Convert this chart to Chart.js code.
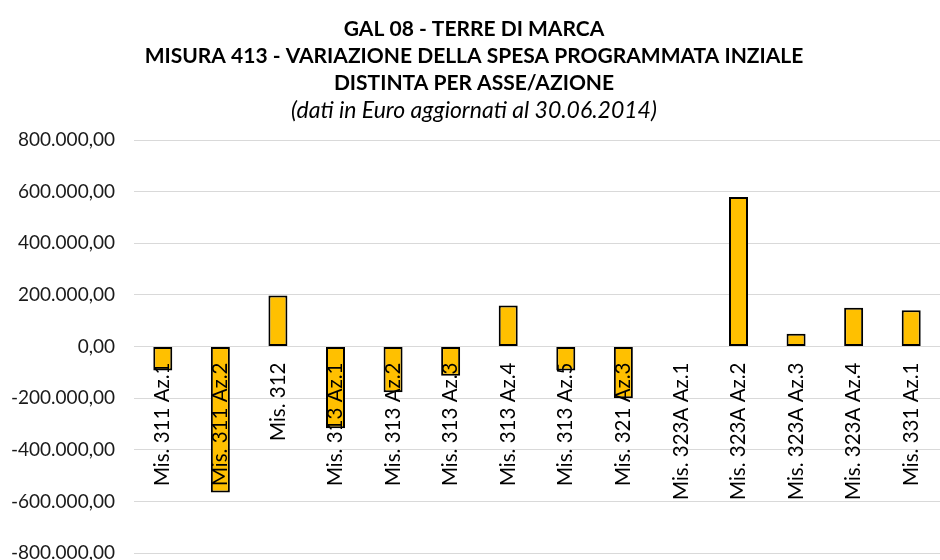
<!DOCTYPE html>
<html>
<head>
<meta charset="utf-8">
<script src="https://cdn.jsdelivr.net/npm/chart.js@4"></script>
<style>
  html, body { margin: 0; padding: 0; background: #fff; }
</style>
</head>
<body>
<canvas id="spesaChart" width="940" height="560"></canvas>
<script>
// Variazione della spesa programmata per asse/azione (Euro)
const categories = [
    'Mis. 311 Az.1', 'Mis. 311 Az.2', 'Mis. 312', 'Mis. 313 Az.1', 'Mis. 313 Az.2',
    'Mis. 313 Az.3', 'Mis. 313 Az.4', 'Mis. 313 Az.5', 'Mis. 321 Az.3', 'Mis. 323A Az.1',
    'Mis. 323A Az.2', 'Mis. 323A Az.3', 'Mis. 323A Az.4', 'Mis. 331 Az.1'
];
const variazione = [
    -93000, -566000, 198000, -317000, -177000,
    -113000, 159000, -93000, -200000, 0,
    579000, 49000, 150000, 140000
];
const titleLines = [
    'GAL 08 - TERRE DI MARCA',
    'MISURA 413 - VARIAZIONE DELLA SPESA PROGRAMMATA INZIALE',
    'DISTINTA PER ASSE/AZIONE'
];
const subtitleText = '(dati in Euro aggiornati al 30.06.2014)';

// 1234567.8 -> "1.234.567,80"
function formatEuro(v) {
    const neg = v < 0;
    const parts = Math.abs(v).toFixed(2).split('.');
    const intPart = parts[0].replace(/\B(?=(\d{3})+(?!\d))/g, '.');
    return (neg ? '-' : '') + intPart + ',' + parts[1];
}

const ctx = document.getElementById('spesaChart').getContext('2d');
const FONT = 'Lato, "Liberation Sans", sans-serif';

new Chart(ctx, {
    type: 'bar',
    data: {
        labels: categories,
        datasets: [{
            data: variazione,
            backgroundColor: '#FFC000',
            borderColor: '#000000',
            borderWidth: 2,
            borderSkipped: false,
            barPercentage: 0.33,
            categoryPercentage: 1
        }]
    },
    options: {
        responsive: false,
        animation: false,
        devicePixelRatio: 1,
        // plot runs a few px past the right edge, like the cropped original
        layout: { padding: { left: 4, right: -4, top: 0, bottom: 7 } },
        plugins: {
            legend: { display: false },
            tooltip: { enabled: false },
            title: {
                display: true,
                text: titleLines,
                color: '#000',
                font: { family: FONT, size: 21, weight: 'bold', lineHeight: '27px' },
                padding: { top: 16, bottom: 0 }
            },
            subtitle: {
                display: true,
                text: subtitleText,
                color: '#000',
                font: { family: FONT, size: 23, style: 'italic', lineHeight: '27px' },
                padding: { top: 0, bottom: 16 }
            }
        },
        scales: {
            y: {
                min: -800000,
                max: 800000,
                ticks: {
                    stepSize: 200000,
                    callback: v => formatEuro(v),
                    color: '#1a1a1a',
                    font: { family: FONT, size: 19, lineHeight: 0.7 },
                    padding: 0
                },
                grid: { color: '#d9d9d9', drawTicks: true, tickLength: 19, tickColor: 'rgba(0,0,0,0)' },
                border: { display: false },
                afterFit: s => { s.width = 130; s.paddingRight = -4; }
            },
            x: {
                position: { y: 0 },
                grid: { display: false, drawTicks: false },
                border: { display: false },
                ticks: {
                    z: 1,
                    autoSkip: false,
                    minRotation: 90,
                    maxRotation: 90,
                    color: '#000',
                    font: { family: FONT, size: 20.5 },
                    padding: 16
                },
                afterFit: s => { s.height = 0; s.paddingLeft = 0; s.paddingRight = -4; }
            }
        }
    }
});
</script>
</body>
</html>
